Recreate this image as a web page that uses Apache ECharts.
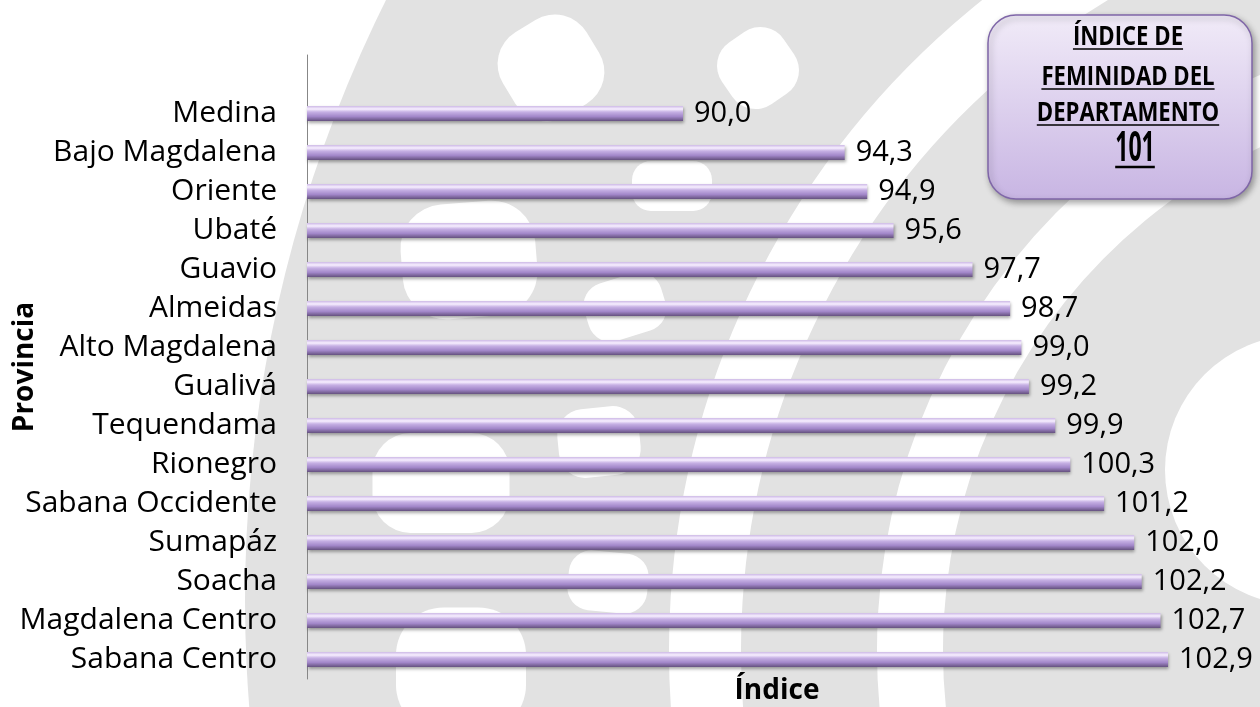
<!DOCTYPE html>
<html>
<head>
<meta charset="utf-8">
<script src="https://cdn.jsdelivr.net/npm/echarts@6/dist/echarts.min.js"></script>
<style>
  html, body { margin: 0; padding: 0; background: #fff; }
  #chart { width: 1260px; height: 707px; }
</style>
</head>
<body>
<div id="chart"></div>
<script>
// provinces, top to bottom as shown
var provincias = ['Medina', 'Bajo Magdalena', 'Oriente', 'Ubaté', 'Guavio', 'Almeidas',
  'Alto Magdalena', 'Gualivá', 'Tequendama', 'Rionegro', 'Sabana Occidente', 'Sumapáz',
  'Soacha', 'Magdalena Centro', 'Sabana Centro'];
var indice = [90.0, 94.3, 94.9, 95.6, 97.7, 98.7, 99.0, 99.2, 99.9, 100.3, 101.2, 102.0,
  102.2, 102.7, 102.9];
var boxLines = ['ÍNDICE DE', 'FEMINIDAD DEL', 'DEPARTAMENTO'];
var boxValue = '101';

var chart = echarts.init(document.getElementById('chart'));

// measure text for the underlines in the box
var mctx = document.createElement('canvas').getContext('2d');
function textW(str, font) {
  mctx.font = font;
  return mctx.measureText(str).width;
}

var boxCx = 1128;
var boxFont = 'bold 27px "Open Sans"';
var boxSx = 0.82;
var boxY = [37, 77, 113];
var boxGraphics = [
  {
    type: 'rect', z: 10,
    shape: { x: 988, y: 15, width: 264, height: 184, r: 28 },
    style: {
      fill: new echarts.graphic.LinearGradient(0, 0, 0, 1, [
        { offset: 0, color: '#f1ebf8' },
        { offset: 1, color: '#c8b5e3' }
      ]),
      stroke: '#7f66a8', lineWidth: 1.5,
      shadowBlur: 6, shadowOffsetX: 2, shadowOffsetY: 3, shadowColor: 'rgba(0,0,0,0.35)'
    }
  }
];
boxLines.forEach(function (t, i) {
  var w = textW(t, boxFont) * boxSx;
  boxGraphics.push({
    type: 'text', z: 11, x: boxCx, y: boxY[i], scaleX: boxSx,
    style: { text: t, x: 0, y: 0, align: 'center', verticalAlign: 'middle',
      font: boxFont, fill: '#000' }
  });
  boxGraphics.push({
    type: 'line', z: 11,
    shape: { x1: boxCx - w / 2, y1: boxY[i] + 12, x2: boxCx + w / 2, y2: boxY[i] + 12 },
    style: { stroke: '#000', lineWidth: 1.5 }
  });
});
var valFont = 'bold 42px "Open Sans"';
var valSx = 0.55;
var valCx = 1135;
var vw = textW(boxValue, valFont) * valSx;
boxGraphics.push({
  type: 'text', z: 11, x: valCx, y: 149, scaleX: valSx,
  style: { text: boxValue, x: 0, y: 0, align: 'center', verticalAlign: 'middle',
    font: valFont, fill: '#000' }
});
boxGraphics.push({
  type: 'line', z: 11,
  shape: { x1: valCx - vw / 2, y1: 167, x2: valCx + vw / 2, y2: 167 },
  style: { stroke: '#000', lineWidth: 2.5 }
});

// faint watermark behind the chart
var wm = '#e2e2e2';
function blob(cx, cy, w, h, rot) {
  return {
    type: 'rect', z: -9, silent: true,
    x: cx, y: cy, rotation: rot || 0,
    shape: { x: -w / 2, y: -h / 2, width: w, height: h, r: Math.min(w, h) * 0.38 },
    style: { fill: '#fff' }
  };
}
var watermark = [
  { type: 'circle', z: -10, silent: true, shape: { cx: 1592, cy: 600, r: 1347 }, style: { fill: wm } },
  { type: 'arc', z: -9, silent: true,
    shape: { cx: 1500, cy: 650, r: 795, startAngle: Math.PI * 0.9, endAngle: Math.PI * 1.55 },
    style: { stroke: '#fff', lineWidth: 72, fill: null } },
  { type: 'arc', z: -9, silent: true,
    shape: { cx: 1500, cy: 650, r: 590, startAngle: Math.PI * 0.9, endAngle: Math.PI * 1.6 },
    style: { stroke: '#fff', lineWidth: 66, fill: null } },
  { type: 'circle', z: -9, silent: true, shape: { cx: 1300, cy: 470, r: 135 }, style: { fill: '#fff' } },
  blob(551, 68, 98, 98, 0.55),
  blob(469, 260, 135, 115, 0.08),
  blob(625, 307, 80, 60, 0.3),
  blob(672, 186, 80, 50, 0),
  blob(441, 483, 137, 100, 0),
  blob(599, 442, 82, 69, 0.1),
  blob(608, 582, 80, 60, -0.1),
  blob(461, 670, 130, 125, 0),
  blob(758, 68, 75, 75, 0.6)
];

function fmt(v) {
  return v.toFixed(1).replace('.', ',');
}

var option = {
  backgroundColor: '#fff',
  animation: false,
  textStyle: { fontFamily: '"Open Sans", sans-serif' },
  grid: { left: 307, right: 13, top: 55, bottom: 28, outerBoundsMode: 'none', containLabel: false },
  xAxis: {
    type: 'value', min: 80, max: 105, interval: 5,
    axisLine: { show: false }, axisTick: { show: false },
    axisLabel: { show: false }, splitLine: { show: false },
    name: 'Índice', nameLocation: 'middle', nameGap: -2,
    nameTextStyle: { fontSize: 28, fontWeight: 'bold', color: '#000' }
  },
  yAxis: {
    type: 'category', inverse: true,
    data: [''].concat(provincias),
    axisLine: { show: true, lineStyle: { color: '#878787', width: 1 } },
    axisTick: { show: false },
    axisLabel: { fontSize: 30, color: '#000', margin: 30, interval: 0 },
    name: 'Provincia', nameLocation: 'middle', nameGap: 268, nameMoveOverlap: false,
    nameTextStyle: { fontSize: 28, fontWeight: 'bold', color: '#000' }
  },
  series: [{
    type: 'bar',
    data: [null].concat(indice),
    barWidth: 15,
    itemStyle: {
      color: new echarts.graphic.LinearGradient(0, 0, 0, 1, [
        { offset: 0, color: '#cdb9e6' },
        { offset: 0.2, color: '#f7efff' },
        { offset: 0.4, color: '#c6b0e4' },
        { offset: 0.7, color: '#a287c9' },
        { offset: 1, color: '#65517f' }
      ]),
      shadowBlur: 3, shadowOffsetX: 1, shadowOffsetY: 2, shadowColor: 'rgba(0,0,0,0.35)'
    },
    label: {
      show: true, position: 'right', distance: 11,
      fontSize: 29, color: '#000',
      formatter: function (p) { return fmt(p.value); }
    }
  }],
  graphic: watermark.concat(boxGraphics)
};

chart.setOption(option);
</script>
</body>
</html>
